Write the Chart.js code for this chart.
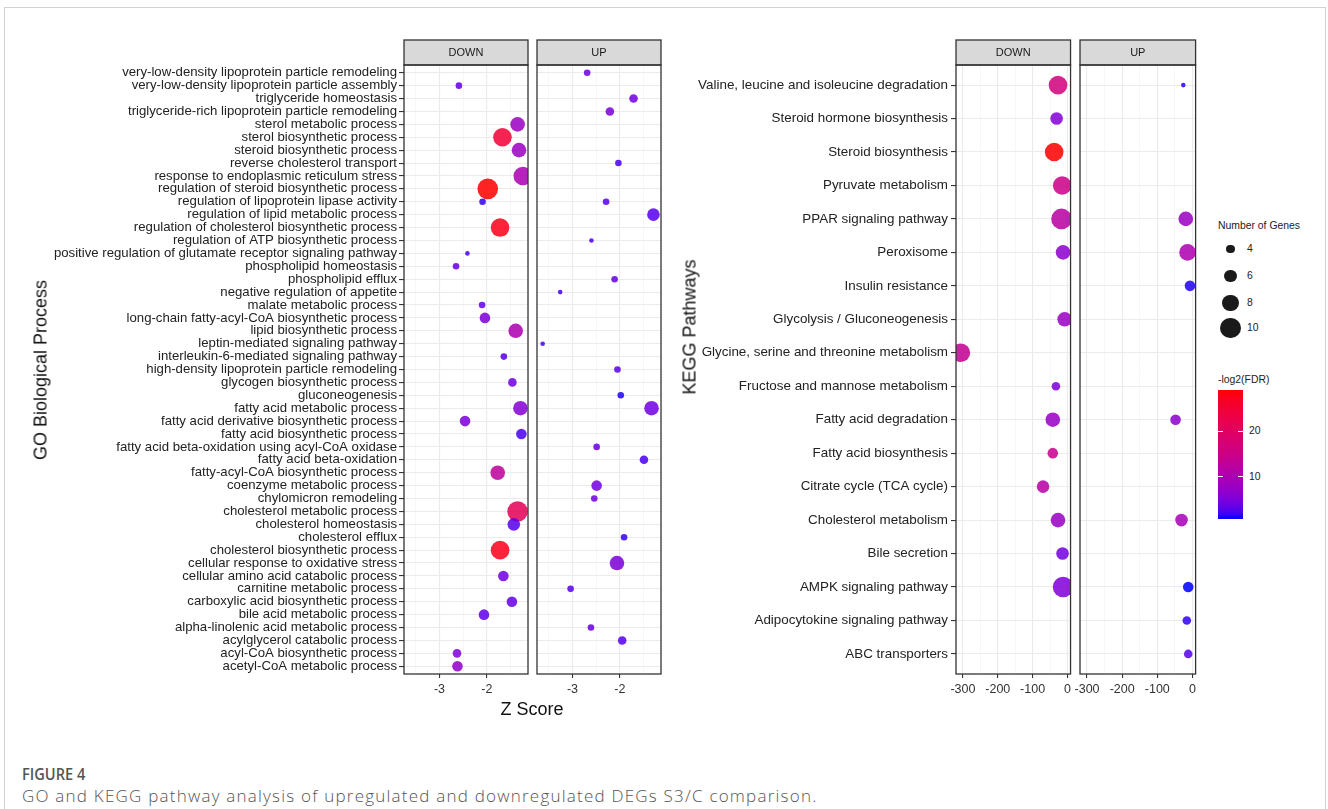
<!DOCTYPE html>
<html>
<head>
<meta charset="utf-8">
<script src="https://cdn.jsdelivr.net/npm/chart.js@4.4.1/dist/chart.umd.min.js"></script>
<style>
  html,body{margin:0;padding:0;background:#fff;}
  body{width:1328px;height:809px;overflow:hidden;position:relative;font-family:"Liberation Sans",Arial,sans-serif;}
  .card{position:absolute;left:4px;top:7px;width:1322px;height:900px;border:1px solid #d2d2d2;box-sizing:border-box;}
  canvas{position:absolute;}
  .t{position:absolute;white-space:nowrap;color:#111;}
  .rot{transform:translate(-50%,-50%) rotate(-90deg);font-size:18px;}
  .cap1{position:absolute;left:22px;top:762px;font-family:"Open Sans",sans-serif;font-size:17px;font-weight:600;color:#555;transform:scaleX(0.86);transform-origin:left center;}
  .cap2{position:absolute;left:22px;top:784px;font-family:"Open Sans",sans-serif;font-size:17px;font-weight:300;color:#555;letter-spacing:1.22px;}
  .lg{position:absolute;font-size:10.4px;color:#222;white-space:nowrap;}
  .dot{position:absolute;background:#1a1a1a;border-radius:50%;}
</style>
</head>
<body>
<div class="card"></div>
<canvas id="goDown"></canvas>
<canvas id="goUp"></canvas>
<canvas id="keggDown"></canvas>
<canvas id="keggUp"></canvas>

<div class="t rot" style="left:41px;top:370px;">GO Biological Process</div>
<div class="t rot" style="left:690px;top:327px;">KEGG Pathways</div>
<div class="t" style="left:532px;top:709px;transform:translate(-50%,-50%);font-size:18px;">Z Score</div>

<div id="legend"></div>

<div class="cap1">FIGURE 4</div>
<div class="cap2">GO and KEGG pathway analysis of upregulated and downregulated DEGs S3/C comparison.</div>

<script>
// ---------------- DATA ----------------
const goTerms = [
  "very-low-density lipoprotein particle remodeling",
  "very-low-density lipoprotein particle assembly",
  "triglyceride homeostasis",
  "triglyceride-rich lipoprotein particle remodeling",
  "sterol metabolic process",
  "sterol biosynthetic process",
  "steroid biosynthetic process",
  "reverse cholesterol transport",
  "response to endoplasmic reticulum stress",
  "regulation of steroid biosynthetic process",
  "regulation of lipoprotein lipase activity",
  "regulation of lipid metabolic process",
  "regulation of cholesterol biosynthetic process",
  "regulation of ATP biosynthetic process",
  "positive regulation of glutamate receptor signaling pathway",
  "phospholipid homeostasis",
  "phospholipid efflux",
  "negative regulation of appetite",
  "malate metabolic process",
  "long-chain fatty-acyl-CoA biosynthetic process",
  "lipid biosynthetic process",
  "leptin-mediated signaling pathway",
  "interleukin-6-mediated signaling pathway",
  "high-density lipoprotein particle remodeling",
  "glycogen biosynthetic process",
  "gluconeogenesis",
  "fatty acid metabolic process",
  "fatty acid derivative biosynthetic process",
  "fatty acid biosynthetic process",
  "fatty acid beta-oxidation using acyl-CoA oxidase",
  "fatty acid beta-oxidation",
  "fatty-acyl-CoA biosynthetic process",
  "coenzyme metabolic process",
  "chylomicron remodeling",
  "cholesterol metabolic process",
  "cholesterol homeostasis",
  "cholesterol efflux",
  "cholesterol biosynthetic process",
  "cellular response to oxidative stress",
  "cellular amino acid catabolic process",
  "carnitine metabolic process",
  "carboxylic acid biosynthetic process",
  "bile acid metabolic process",
  "alpha-linolenic acid metabolic process",
  "acylglycerol catabolic process",
  "acyl-CoA biosynthetic process",
  "acetyl-CoA metabolic process"
];

// GO, DOWN facet
const goDownTerms = [
  "very-low-density lipoprotein particle assembly","sterol metabolic process","sterol biosynthetic process",
  "steroid biosynthetic process","response to endoplasmic reticulum stress","regulation of steroid biosynthetic process",
  "regulation of lipoprotein lipase activity","regulation of cholesterol biosynthetic process",
  "positive regulation of glutamate receptor signaling pathway","phospholipid homeostasis","malate metabolic process",
  "long-chain fatty-acyl-CoA biosynthetic process","lipid biosynthetic process","interleukin-6-mediated signaling pathway",
  "glycogen biosynthetic process","fatty acid metabolic process","fatty acid derivative biosynthetic process",
  "fatty acid biosynthetic process","fatty-acyl-CoA biosynthetic process","cholesterol metabolic process",
  "cholesterol homeostasis","cholesterol biosynthetic process","cellular amino acid catabolic process",
  "carboxylic acid biosynthetic process","bile acid metabolic process","acyl-CoA biosynthetic process",
  "acetyl-CoA metabolic process"
];
const goDownZ     = [-2.59,-1.35,-1.67,-1.32,-1.24,-1.98,-2.09,-1.72,-2.41,-2.65,-2.10,-2.04,-1.39,-1.64,-1.46,-1.29,-2.46,-1.27,-1.77,-1.35,-1.43,-1.72,-1.65,-1.47,-2.06,-2.63,-2.62];
const goDownGenes = [3,7,9,7,9,10,3,9,2,3,3,5,7,3,4,7,5,5,7,10,6,9,5,5,5,4,5];
const goDownFDR   = [3.5,7.8,24.8,7.8,9.8,29,1.3,27.6,2.1,3.5,3.5,5,10,2.7,4.1,5.5,5,2.1,12.6,21,2.7,27.6,4.1,3.5,3,5.5,6.9];

// GO, UP facet
const goUpTerms = [
  "very-low-density lipoprotein particle remodeling","triglyceride homeostasis","triglyceride-rich lipoprotein particle remodeling",
  "reverse cholesterol transport","regulation of lipoprotein lipase activity","regulation of lipid metabolic process",
  "regulation of ATP biosynthetic process","phospholipid efflux","negative regulation of appetite",
  "leptin-mediated signaling pathway","high-density lipoprotein particle remodeling","gluconeogenesis",
  "fatty acid metabolic process","fatty acid beta-oxidation using acyl-CoA oxidase","fatty acid beta-oxidation",
  "coenzyme metabolic process","chylomicron remodeling","cholesterol efflux","cellular response to oxidative stress",
  "carnitine metabolic process","alpha-linolenic acid metabolic process","acylglycerol catabolic process"
];
const goUpZ     = [-2.69,-1.71,-2.21,-2.03,-2.29,-1.29,-2.60,-2.11,-3.26,-3.63,-2.05,-1.98,-1.33,-2.49,-1.49,-2.49,-2.54,-1.91,-2.06,-3.04,-2.61,-1.95];
const goUpGenes = [3,4,4,3,3,6,2,3,2,2,3,3,7,3,4,5,3,3,7,3,3,4];
const goUpFDR   = [4.1,4.1,5,2.1,2.7,2.7,2.1,3.5,2.1,2.1,2.7,1,4.1,3.5,2.1,4.4,4.4,1.5,5,2.7,3.5,2.7];

const goXTicksMajor = [-3,-2];
const goXTicksMinor = [-3.5,-2.5,-1.5];
const goXRange = [-3.75,-1.13];

const keggTerms = [
  "Valine, leucine and isoleucine degradation","Steroid hormone biosynthesis","Steroid biosynthesis",
  "Pyruvate metabolism","PPAR signaling pathway","Peroxisome","Insulin resistance","Glycolysis / Gluconeogenesis",
  "Glycine, serine and threonine metabolism","Fructose and mannose metabolism","Fatty acid degradation",
  "Fatty acid biosynthesis","Citrate cycle (TCA cycle)","Cholesterol metabolism","Bile secretion",
  "AMPK signaling pathway","Adipocytokine signaling pathway","ABC transporters"
];
const keggDownTerms = [
  "Valine, leucine and isoleucine degradation","Steroid hormone biosynthesis","Steroid biosynthesis",
  "Pyruvate metabolism","PPAR signaling pathway","Peroxisome","Glycolysis / Gluconeogenesis",
  "Glycine, serine and threonine metabolism","Fructose and mannose metabolism","Fatty acid degradation",
  "Fatty acid biosynthesis","Citrate cycle (TCA cycle)","Cholesterol metabolism","Bile secretion","AMPK signaling pathway"
];
const keggDownX     = [-27,-31,-38,-15,-17,-12.5,-8,-306,-33,-42,-42,-70,-27,-14,-12.5];
const keggDownGenes = [9,6,9,9,10,7,7,9,4,7,5,6,7,6,10];
const keggDownFDR   = [16.3,5.5,29,14.9,12,6.4,7.8,13.4,5,7.5,14.3,11.5,7.5,4.4,5.2];

const keggUpTerms = [
  "Valine, leucine and isoleucine degradation","PPAR signaling pathway","Peroxisome","Insulin resistance",
  "Fatty acid degradation","Cholesterol metabolism","AMPK signaling pathway","Adipocytokine signaling pathway","ABC transporters"
];
const keggUpX     = [-26,-19,-14,-7,-48,-31,-12,-16,-12];
const keggUpGenes = [2,7,8,5,5,6,5,4,4];
const keggUpFDR   = [1.3,7.8,10,1,6.4,9.2,0.7,1.3,2.7];

const keggXTicksMajor = [-300,-200,-100,0];
const keggXTicksMinor = [-250,-150,-50];
const keggXRange = [-320,9];

const sizeLegendGenes = [4,6,8,10];
const fdrLegendTicks = [10,20];
const fdrLimits = [0.7,29];

// ---------------- STYLE HELPERS ----------------
const FONT = "'Liberation Sans', Arial, sans-serif";
const POINT_ALPHA = 0.86;
function sizeFor(g){ return g + 0.3; }

function lin(c){c/=255;return c<=0.04045?c/12.92:Math.pow((c+0.055)/1.055,2.4);}
function unlin(c){c=Math.max(0,Math.min(1,c));return Math.round(255*(c<=0.0031308?12.92*c:1.055*Math.pow(c,1/2.4)-0.055));}
const Xn=0.95047,Yn=1,Zn=1.08883;
function fL(t){return t>0.008856?Math.cbrt(t):7.787*t+16/116;}
function fLi(t){return t>0.206893?t*t*t:(t-16/116)/7.787;}
function rgb2lab(r,g,b){
  const R=lin(r),G=lin(g),B=lin(b);
  const X=0.4124*R+0.3576*G+0.1805*B, Y=0.2126*R+0.7152*G+0.0722*B, Z=0.0193*R+0.1192*G+0.9505*B;
  const fx=fL(X/Xn),fy=fL(Y/Yn),fz=fL(Z/Zn);
  return [116*fy-16,500*(fx-fy),200*(fy-fz)];
}
function lab2rgb(L,a,b){
  const fy=(L+16)/116,fx=fy+a/500,fz=fy-b/200;
  const X=Xn*fLi(fx),Y=Yn*fLi(fy),Z=Zn*fLi(fz);
  const R=3.2406*X-1.5372*Y-0.4986*Z, G=-0.9689*X+1.8758*Y+0.0415*Z, B=0.0557*X-0.2040*Y+1.0570*Z;
  return [unlin(R),unlin(G),unlin(B)];
}
const LOW=rgb2lab(0,0,255), HIGH=rgb2lab(255,0,0);
function colorFor(v, alpha){
  let t=(v-fdrLimits[0])/(fdrLimits[1]-fdrLimits[0]); t=Math.max(0,Math.min(1,t));
  const c=lab2rgb(LOW[0]+(HIGH[0]-LOW[0])*t, LOW[1]+(HIGH[1]-LOW[1])*t, LOW[2]+(HIGH[2]-LOW[2])*t);
  return `rgba(${c[0]},${c[1]},${c[2]},${alpha === undefined ? 1 : alpha})`;
}

const stripPlugin = {
  id:'strip',
  afterDraw(chart, args, opts){
    const {ctx, chartArea:a} = chart;
    const top = a.top - opts.h;
    ctx.save();
    ctx.fillStyle = '#D9D9D9';
    ctx.fillRect(a.left, top, a.right - a.left, opts.h);
    ctx.strokeStyle = '#333333';
    ctx.lineWidth = 1.3;
    ctx.strokeRect(a.left, top, a.right - a.left, opts.h);
    ctx.strokeRect(a.left, a.top, a.right - a.left, a.bottom - a.top);
    ctx.fillStyle = '#1a1a1a';
    ctx.font = '11px ' + FONT;
    ctx.textAlign = 'center';
    ctx.textBaseline = 'middle';
    ctx.fillText(opts.text, (a.left + a.right) / 2, top + opts.h / 2 + 0.5);
    ctx.restore();
  }
};

function makePanel(id, cfg){
  const cv = document.getElementById(id);
  const {box, area, xRange, xMajor, xMinor, cats, showY, yFont, yPad, strip, terms, xs, genes, fdr} = cfg;
  cv.width = box.w; cv.height = box.h;
  cv.style.left = box.x + 'px'; cv.style.top = box.y + 'px';
  const n = cats.length;
  const pts = terms.map((t, i) => ({x: xs[i], y: cats.indexOf(t), r: sizeFor(genes[i])}));
  const cols = fdr.map(v => colorFor(v, POINT_ALPHA));
  const isMajor = v => xMajor.includes(v);
  new Chart(cv, {
    type: 'bubble',
    data: { datasets: [{ data: pts, backgroundColor: cols, borderWidth: 0, clip: 0 }] },
    options: {
      responsive: false, animation: false, events: [],
      layout: { autoPadding: false, padding: { top: area.t - box.y, right: box.x + box.w - area.r, left: 0, bottom: 0 } },
      plugins: { legend: {display: false}, tooltip: {enabled: false}, strip: {text: strip, h: 25} },
      scales: {
        x: {
          type: 'linear', min: xRange[0], max: xRange[1],
          afterBuildTicks: s => { s.ticks = [...xMajor, ...xMinor].sort((a,b)=>a-b).map(v => ({value: v})); },
          afterFit: s => { s.height = box.y + box.h - area.b; },
          ticks: { autoSkip: false, maxRotation: 0, padding: 4, color: '#333', font: {size: 12.5, family: FONT},
                   callback: v => isMajor(v) ? String(v) : '' },
          grid: { color: c => isMajor(c.tick.value) ? '#EBEBEB' : '#F4F4F4',
                  lineWidth: c => isMajor(c.tick.value) ? 1.1 : 0.7,
                  tickColor: c => isMajor(c.tick.value) ? '#333' : 'rgba(0,0,0,0)',
                  tickLength: 4, tickWidth: 1.1 },
          border: { display: false }
        },
        y: {
          type: 'linear', reverse: true, min: -0.6, max: n - 0.4,
          afterBuildTicks: s => { s.ticks = cats.map((_, i) => ({value: i})); },
          afterFit: s => { s.width = area.l - box.x; },
          ticks: { display: showY, autoSkip: false, padding: yPad, color: '#222', font: {size: yFont, family: FONT},
                   callback: v => cats[v] },
          grid: { color: '#EBEBEB', lineWidth: 1.1, drawTicks: showY, tickColor: '#333', tickLength: 5, tickWidth: 1.1 },
          border: { display: false }
        }
      }
    },
    plugins: [stripPlugin]
  });
}

makePanel('goDown', {
  box: {x: 40, y: 36, w: 492, h: 694}, area: {l: 404, r: 528, t: 65, b: 674},
  xRange: goXRange, xMajor: goXTicksMajor, xMinor: goXTicksMinor,
  cats: goTerms, showY: true, yFont: 13.2, yPad: 2, strip: 'DOWN',
  terms: goDownTerms, xs: goDownZ, genes: goDownGenes, fdr: goDownFDR
});
makePanel('goUp', {
  box: {x: 530, y: 36, w: 136, h: 694}, area: {l: 537, r: 661, t: 65, b: 674},
  xRange: goXRange, xMajor: goXTicksMajor, xMinor: goXTicksMinor,
  cats: goTerms, showY: false, yFont: 13.2, yPad: 2, strip: 'UP',
  terms: goUpTerms, xs: goUpZ, genes: goUpGenes, fdr: goUpFDR
});
makePanel('keggDown', {
  box: {x: 690, y: 36, w: 385, h: 694}, area: {l: 956, r: 1071, t: 65, b: 674},
  xRange: keggXRange, xMajor: keggXTicksMajor, xMinor: keggXTicksMinor,
  cats: keggTerms, showY: true, yFont: 13.4, yPad: 3, strip: 'DOWN',
  terms: keggDownTerms, xs: keggDownX, genes: keggDownGenes, fdr: keggDownFDR
});
makePanel('keggUp', {
  box: {x: 1070, y: 36, w: 130, h: 694}, area: {l: 1079, r: 1196, t: 65, b: 674},
  xRange: keggXRange, xMajor: keggXTicksMajor, xMinor: keggXTicksMinor,
  cats: keggTerms, showY: false, yFont: 13.4, yPad: 3, strip: 'UP',
  terms: keggUpTerms, xs: keggUpX, genes: keggUpGenes, fdr: keggUpFDR
});

// ---------------- LEGENDS (HTML) ----------------
(function(){
  const L = document.getElementById('legend');
  let html = '<div class="lg" style="left:1218px;top:220px;">Number of Genes</div>';
  const ys = [249, 276, 303, 328];
  sizeLegendGenes.forEach((g, i) => {
    const r = sizeFor(g);
    html += `<div class="dot" style="left:${1230.5 - r}px;top:${ys[i] - r}px;width:${2*r}px;height:${2*r}px;"></div>`;
    html += `<div class="lg" style="left:1247px;top:${ys[i] - 6}px;">${g}</div>`;
  });
  html += '<div class="lg" style="left:1218px;top:374px;">-log2(FDR)</div>';
  const barTop = 390, barH = 129, barL = 1218, barW = 25;
  const stops = [];
  for (let k = 0; k <= 20; k++) {
    const v = fdrLimits[1] - (fdrLimits[1] - fdrLimits[0]) * k / 20;
    stops.push(`${colorFor(v)} ${k*5}%`);
  }
  html += `<div style="position:absolute;left:${barL}px;top:${barTop}px;width:${barW}px;height:${barH}px;background:linear-gradient(to bottom, ${stops.join(',')});"></div>`;
  fdrLegendTicks.forEach(v => {
    const y = barTop + barH - (v - fdrLimits[0]) / (fdrLimits[1] - fdrLimits[0]) * barH;
    html += `<div style="position:absolute;left:${barL}px;top:${y - 0.5}px;width:5px;height:1px;background:#fff;"></div>`;
    html += `<div style="position:absolute;left:${barL + barW - 5}px;top:${y - 0.5}px;width:5px;height:1px;background:#fff;"></div>`;
    html += `<div class="lg" style="left:1249px;top:${y - 6}px;">${v}</div>`;
  });
  L.innerHTML = html;
})();
</script>
</body>
</html>
